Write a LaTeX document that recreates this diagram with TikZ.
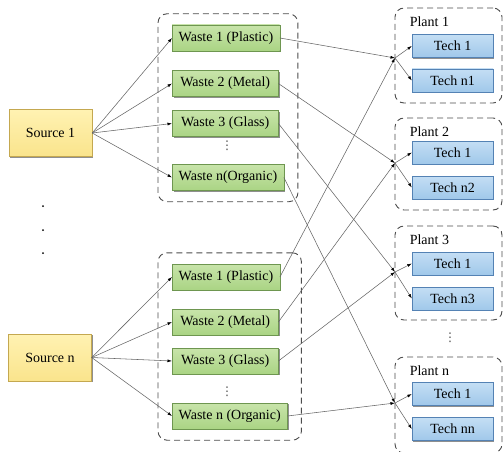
\documentclass[tikz,border=0pt]{standalone}
\usepackage{fontspec}
\setmainfont{Liberation Serif}
\newfontfamily\dotsfont{DejaVu Sans}
\usetikzlibrary{arrows.meta, positioning, fit, shadows}
\definecolor{srctop}{RGB}{255,242,178}
\definecolor{srcbot}{RGB}{250,228,140}
\definecolor{srcline}{RGB}{196,168,80}
\definecolor{wastetop}{RGB}{200,228,170}
\definecolor{wastebot}{RGB}{170,212,132}
\definecolor{wasteline}{RGB}{110,150,80}
\definecolor{techtop}{RGB}{196,222,244}
\definecolor{techbot}{RGB}{160,200,234}
\definecolor{techline}{RGB}{84,130,180}
\tikzset{
    boxbase/.style={rectangle, thin, align=center, inner xsep=6.5pt, inner ysep=2pt,
                    drop shadow={shadow xshift=1.3pt, shadow yshift=-1.3pt,
                                 fill=black!55, opacity=0.8}},
    srcbox/.style={boxbase, top color=srctop, bottom color=srcbot, draw=srcline,
                   minimum width=83pt, minimum height=47pt},
    wastebox/.style={boxbase, top color=wastetop, bottom color=wastebot, draw=wasteline,
                     minimum width=106pt, minimum height=26pt, anchor=west},
    techbox/.style={boxbase, top color=techtop, bottom color=techbot, draw=techline,
                    minimum width=81pt, minimum height=23pt},
    groupbox/.style={rectangle, draw=black!70, line width=0.9pt, dash pattern=on 6pt off 4pt,
                     rounded corners=9pt, inner xsep=14pt, inner ysep=11pt},
    plantbox/.style={rectangle, draw=black!70, line width=0.9pt, dash pattern=on 6pt off 4pt,
                     rounded corners=9pt, minimum width=107pt},
    plantlbl/.style={anchor=base west, inner sep=0pt},
    flow/.style={draw=black!60, line width=0.55pt, -{Latex[length=4.5pt, width=3pt, black]}},
    vdotmark/.style={inner sep=0pt, text=black!70, font=\dotsfont\fontsize{12}{12}\selectfont},
}

\begin{document}
\begin{tikzpicture}[x=1pt, y=-1pt, font=\fontsize{14}{16}\selectfont]
    \useasboundingbox (0,0) rectangle (503,452);
    \clip (0,0) rectangle (503,452);

    % sources
    \node[srcbox] (src1) at (50.5,133) {Source 1};
    \node[srcbox] (srcn) at (50,357.5) {Source n};
    \fill[black] (43,206) circle (1pt) (43,230) circle (1pt) (43,253) circle (1pt);

    % waste streams of source 1
    \node[wastebox] (w11) at (172,38) {Waste 1 (Plastic)};
    \node[wastebox] (w12) at (172,83.5) {Waste 2 (Metal)};
    \node[wastebox] (w13) at (172,123.5) {Waste 3 (Glass)};
    \node[vdotmark] (w1dots) at (227,146) {⋮};
    \node[wastebox] (w1n) at (172,177.5) {Waste n(Organic)};
    \node[groupbox, fit=(w11)(w12)(w13)(w1n)] (grp1) {};

    % waste streams of source n
    \node[wastebox] (wn1) at (172,277) {Waste 1 (Plastic)};
    \node[wastebox] (wn2) at (172,322) {Waste 2 (Metal)};
    \node[wastebox] (wn3) at (172,361) {Waste 3 (Glass)};
    \node[vdotmark] (wndots) at (227,392) {⋮};
    \node[wastebox] (wnn) at (172,416) {Waste n (Organic)};
    \node[groupbox, fit=(wn1)(wn2)(wn3)(wnn)] (grpn) {};

    % plants
    \node[plantbox, minimum height=95pt] (plant1) at (448.5,55.5) {};
    \node[plantbox, minimum height=92pt] (plant2) at (448.5,164) {};
    \node[plantbox, minimum height=94pt] (plant3) at (448.5,273) {};
    \node[plantbox, minimum height=96pt] (plantn) at (448.5,405) {};
    \node[vdotmark] (pdots) at (450,338) {⋮};

    \node[plantlbl] (lbl1) at ([xshift=15pt, yshift=-19pt]plant1.north west) {Plant 1};
    \node[plantlbl] (lbl2) at ([xshift=15pt, yshift=-19pt]plant2.north west) {Plant 2};
    \node[plantlbl] (lbl3) at ([xshift=15pt, yshift=-19pt]plant3.north west) {Plant 3};
    \node[plantlbl] (lbln) at ([xshift=15pt, yshift=-19pt]plantn.north west) {Plant n};

    \node[techbox] (t11) at (452.5,46) {Tech 1};
    \node[techbox] (t1n) at (452.5,80.5) {Tech n1};
    \node[techbox] (t21) at (452.5,152.5) {Tech 1};
    \node[techbox] (t2n) at (452.5,187.5) {Tech n2};
    \node[techbox] (t31) at (452.5,263.5) {Tech 1};
    \node[techbox] (t3n) at (452.5,298.5) {Tech n3};
    \node[techbox] (tn1) at (452.5,394) {Tech 1};
    \node[techbox] (tnn) at (452.5,429) {Tech nn};

    \coordinate (j1) at (395,58);
    \coordinate (j2) at (395,163);
    \coordinate (j3) at (395,272);
    \coordinate (jn) at (395,403);

    % source -> waste
    \draw[flow] (src1.east) -- (w11.west);
    \draw[flow] (src1.east) -- (w12.west);
    \draw[flow] (src1.east) -- (w13.west);
    \draw[flow] (src1.east) -- (w1n.west);
    \draw[flow] (srcn.east) -- (wn1.west);
    \draw[flow] (srcn.east) -- (wn2.west);
    \draw[flow] (srcn.east) -- (wn3.west);
    \draw[flow] (srcn.east) -- (wnn.west);

    % waste -> plant
    \draw[flow] (w11.east) -- (j1);
    \draw[flow] (w12.east) -- (j2);
    \draw[flow] (w13.east) -- (j3);
    \draw[flow] (w1n.east) -- (jn);
    \draw[flow] (wn1.east) -- (j1);
    \draw[flow] (wn2.east) -- (j2);
    \draw[flow] (wn3.east) -- (j3);
    \draw[flow] (wnn.east) -- (jn);

    % plant -> technology
    \draw[flow] (j1) -- (t11.west);
    \draw[flow] (j1) -- (t1n.west);
    \draw[flow] (j2) -- (t21.west);
    \draw[flow] (j2) -- (t2n.west);
    \draw[flow] (j3) -- (t31.west);
    \draw[flow] (j3) -- (t3n.west);
    \draw[flow] (jn) -- (tn1.west);
    \draw[flow] (jn) -- (tnn.west);
\end{tikzpicture}
\end{document}
